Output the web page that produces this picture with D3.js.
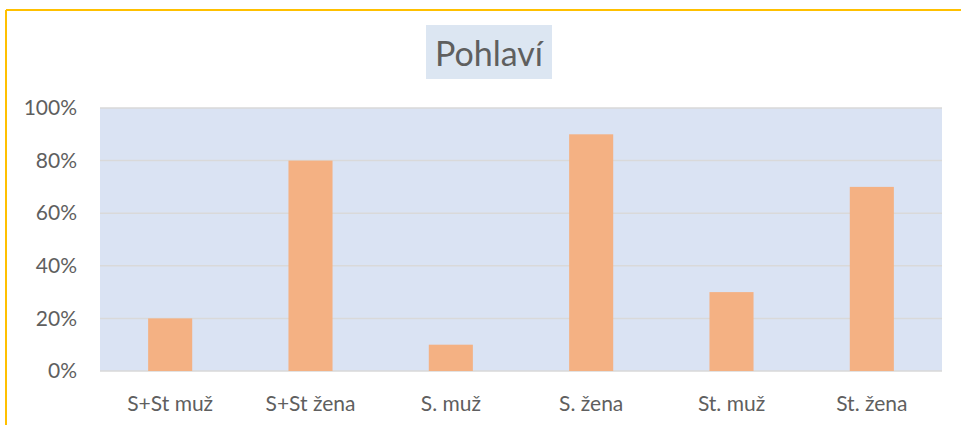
<!DOCTYPE html>
<html><head><meta charset="utf-8">
<script src="https://cdn.jsdelivr.net/npm/d3@7"></script>
<style>body{margin:0;background:#fff;}svg{display:block;font-family:Lato,"Open Sans",sans-serif;}</style>
</head><body>
<svg id="c" width="961" height="427"></svg>
<script>
const categories = ["S+St muž","S+St žena","S. muž","S. žena","St. muž","St. žena"];
const values = [0.20, 0.80, 0.10, 0.90, 0.30, 0.70];
const yTicks = [0, 0.2, 0.4, 0.6, 0.8, 1.0];
const title = "Pohlaví";

const svg = d3.select("#c");
// outer border (top & left)
svg.append("line").attr("x1",6).attr("x2",961).attr("y1",10).attr("y2",10).attr("stroke","#ffc000").attr("stroke-width",2);
svg.append("line").attr("x1",6).attr("x2",6).attr("y1",10).attr("y2",425).attr("stroke","#ffc000").attr("stroke-width",2);

const m = {left:100, right:942, top:108, bottom:371};
const x = d3.scaleBand().domain(categories).range([m.left, m.right]).paddingInner(0.686).paddingOuter(0.343);
const y = d3.scaleLinear().domain([0,1]).range([m.bottom, m.top]);

svg.append("rect").attr("x",m.left).attr("y",m.top).attr("width",m.right-m.left).attr("height",m.bottom-m.top).attr("fill","#dae3f3");

// title
const tg = svg.append("g");
tg.append("rect").attr("x",426).attr("y",25).attr("width",126).attr("height",54).attr("fill","#dce6f2");
tg.append("text").attr("x",489).attr("y",66).attr("text-anchor","middle").attr("font-size",34).attr("fill","#5f5f5f").text(title);

// gridlines
svg.append("g").selectAll("line").data(yTicks).join("line")
  .attr("x1",m.left).attr("x2",m.right).attr("y1",d=>y(d)).attr("y2",d=>y(d))
  .attr("stroke","#d9d9d9").attr("stroke-width",1.5);

// bars
svg.append("g").selectAll("rect").data(values).join("rect")
  .attr("x",(d,i)=>x(categories[i])).attr("width",x.bandwidth())
  .attr("y",d=>y(d)).attr("height",d=>y(0)-y(d))
  .attr("fill","#f4b183");

// y axis
const ya = svg.append("g").attr("transform",`translate(${m.left},0)`)
  .call(d3.axisLeft(y).tickValues(yTicks).tickFormat(d3.format(".0%")).tickSize(0).tickPadding(23));
ya.select(".domain").remove();
ya.selectAll("text").attr("font-size",21).attr("fill","#5f5f5f").attr("font-family","Lato, 'Open Sans', sans-serif");

// x axis
const xa = svg.append("g").attr("transform",`translate(0,${m.bottom})`)
  .call(d3.axisBottom(x).tickSize(0).tickPadding(25));
xa.select(".domain").remove();
xa.selectAll("text").attr("font-size",21).attr("fill","#5f5f5f").attr("font-family","Lato, 'Open Sans', sans-serif");
</script>
</body></html>
